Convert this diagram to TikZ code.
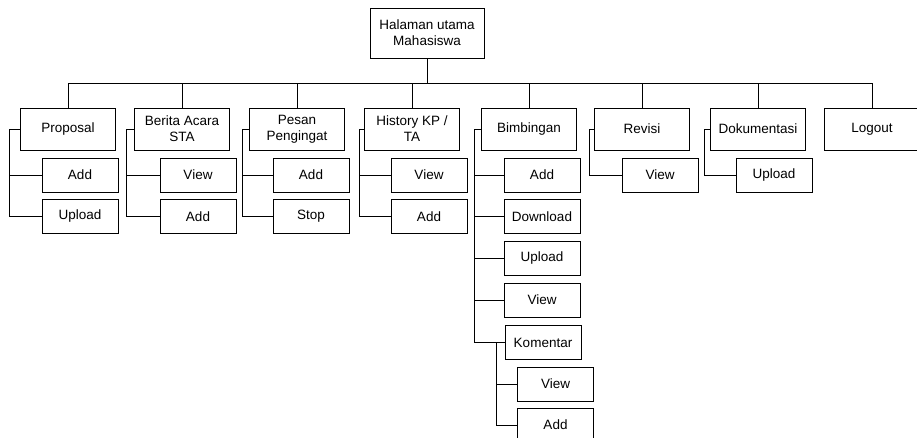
\documentclass[tikz,border=0pt]{standalone}
\usepackage{fontspec}
\setmainfont{Liberation Sans}
\usepackage{tikz}

\begin{document}
\begin{tikzpicture}[x=1pt,y=-1pt,line width=0.8pt,
  menu/.style={draw,fill=white,align=center,inner sep=0pt,
    font=\fontsize{13.5}{16}\selectfont},
  topbox/.style={menu,minimum width=95pt,minimum height=42pt},
  subbox/.style={menu,minimum width=76pt,minimum height=34pt}]
  \useasboundingbox (0,0) rectangle (917,438);
  % root of the menu tree
  \node[menu,minimum width=114pt,minimum height=50pt] (root) at (427,33) {Halaman utama\\Mahasiswa};
  \coordinate (bus) at (427,83);
  \draw (root.south) -- (bus);
  % first level, hung on one bus line
  \foreach \n/\x/\t in {prop/68/{Proposal},ber/182/{Berita Acara\\STA},pes/297/{Pesan\\Pengingat},
      hist/412/{History KP /\\TA},bimb/529/{Bimbingan},rev/642/{Revisi},dok/758/{Dokumentasi},logout/872/{Logout}} {
    \node[topbox] (\n) at (\x,129) {\t};
    \draw (\n.north) |- (bus);
  }
  % second level
  \node[subbox] (propadd) at (80,175) {Add};
  \node[subbox] (propupl) at (80,216.5) {Upload};
  \node[subbox] (berview) at (198,175) {View};
  \node[subbox] (beradd) at (198,216.5) {Add};
  \node[subbox] (pesadd) at (311,175) {Add};
  \node[subbox] (pesstop) at (311,216.5) {Stop};
  \node[subbox] (histview) at (429,175) {View};
  \node[subbox] (histadd) at (429,216.5) {Add};
  \node[subbox] (bimbadd) at (542,175) {Add};
  \node[subbox] (bimbdown) at (542,216.5) {Download};
  \node[subbox] (bimbupl) at (542,258.5) {Upload};
  \node[subbox] (bimbview) at (542,300) {View};
  \node[subbox] (kom) at (543,342.5) {Komentar};
  \node[subbox] (revview) at (660,175) {View};
  \node[subbox] (dokupl) at (774,175) {Upload};
  % third level under Komentar
  \node[subbox] (komview) at (555.5,384) {View};
  \node[subbox] (komadd) at (555.5,425) {Add};
  % side spines
  \foreach \p/\d/\c in {prop/11/propadd,prop/11/propupl,ber/8/berview,ber/8/beradd,
      pes/7/pesadd,pes/7/pesstop,hist/5/histview,hist/5/histadd,
      bimb/7/bimbadd,bimb/7/bimbdown,bimb/7/bimbupl,bimb/7/bimbview,bimb/7/kom,
      rev/5/revview,dok/6/dokupl,kom/8/komview,kom/8/komadd} {
    \draw (\p.west) -- ++(-\d,0) |- (\c.west);
  }
\end{tikzpicture}
\end{document}
